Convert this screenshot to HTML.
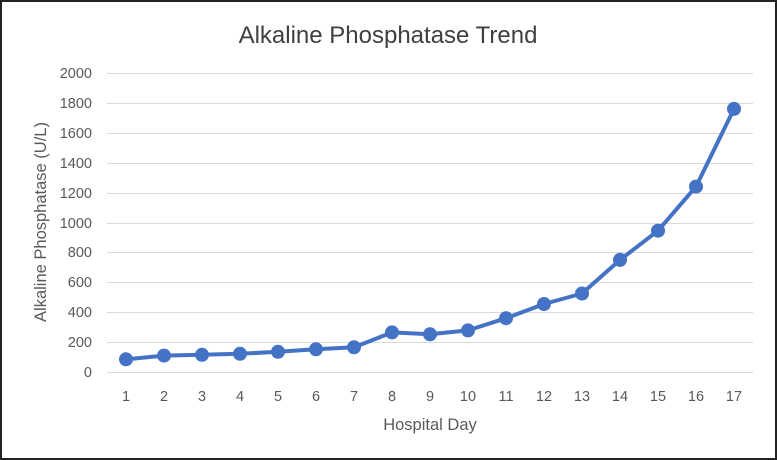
<!DOCTYPE html>
<html><head><meta charset="utf-8"><style>
html,body{margin:0;padding:0;background:#fff}
svg{display:block;font-family:"Liberation Sans",sans-serif}
</style></head><body>
<svg width="777" height="460" viewBox="0 0 777 460" xmlns="http://www.w3.org/2000/svg">
<rect x="1" y="1" width="775" height="458" fill="#fff" stroke="#222" stroke-width="2"/>
<text x="388" y="43" text-anchor="middle" font-size="24" fill="#404040">Alkaline Phosphatase Trend</text>
<g stroke="#d9d9d9" stroke-width="1">
<line x1="107" x2="753" y1="73.5" y2="73.5"/><line x1="107" x2="753" y1="103.5" y2="103.5"/>
<line x1="107" x2="753" y1="133.5" y2="133.5"/><line x1="107" x2="753" y1="163.5" y2="163.5"/>
<line x1="107" x2="753" y1="193.5" y2="193.5"/><line x1="107" x2="753" y1="223.5" y2="223.5"/>
<line x1="107" x2="753" y1="252.5" y2="252.5"/><line x1="107" x2="753" y1="282.5" y2="282.5"/>
<line x1="107" x2="753" y1="312.5" y2="312.5"/><line x1="107" x2="753" y1="342.5" y2="342.5"/>
<line x1="107" x2="753" y1="372.5" y2="372.5"/>
</g>
<g font-size="14.5" fill="#595959" text-anchor="end">
<text x="92" y="78">2000</text><text x="92" y="108">1800</text><text x="92" y="138">1600</text>
<text x="92" y="168">1400</text><text x="92" y="198">1200</text><text x="92" y="228">1000</text>
<text x="92" y="257">800</text><text x="92" y="287">600</text><text x="92" y="317">400</text>
<text x="92" y="347">200</text><text x="92" y="377">0</text>
</g>
<g font-size="14.5" fill="#595959" text-anchor="middle">
<text x="126" y="401">1</text><text x="164" y="401">2</text><text x="202" y="401">3</text><text x="240" y="401">4</text>
<text x="278" y="401">5</text><text x="316" y="401">6</text><text x="354" y="401">7</text><text x="392" y="401">8</text>
<text x="430" y="401">9</text><text x="468" y="401">10</text><text x="506" y="401">11</text><text x="544" y="401">12</text>
<text x="582" y="401">13</text><text x="620" y="401">14</text><text x="658" y="401">15</text><text x="696" y="401">16</text>
<text x="734" y="401">17</text>
</g>
<text x="430" y="430" text-anchor="middle" font-size="16.5" fill="#595959">Hospital Day</text>
<text transform="translate(46,222) rotate(-90)" text-anchor="middle" font-size="16.5" fill="#595959">Alkaline Phosphatase (U/L)</text>
<polyline fill="none" stroke="#4472c4" stroke-width="4" stroke-linejoin="round" points="126,359.3 164,355.6 202,354.8 240,353.8 278,351.8 316,349.3 354,347.3 392,332.4 430,334.3 468,330.4 506,318.2 544,304 582,293.5 620,259.9 658,230.7 696,186.6 734,108.9"/>
<g fill="#4472c4">
<circle cx="126" cy="359.3" r="7"/><circle cx="164" cy="355.6" r="7"/><circle cx="202" cy="354.8" r="7"/>
<circle cx="240" cy="353.8" r="7"/><circle cx="278" cy="351.8" r="7"/><circle cx="316" cy="349.3" r="7"/>
<circle cx="354" cy="347.3" r="7"/><circle cx="392" cy="332.4" r="7"/><circle cx="430" cy="334.3" r="7"/>
<circle cx="468" cy="330.4" r="7"/><circle cx="506" cy="318.2" r="7"/><circle cx="544" cy="304" r="7"/>
<circle cx="582" cy="293.5" r="7"/><circle cx="620" cy="259.9" r="7"/><circle cx="658" cy="230.7" r="7"/>
<circle cx="696" cy="186.6" r="7"/><circle cx="734" cy="108.9" r="7"/>
</g>
</svg>
</body></html>
